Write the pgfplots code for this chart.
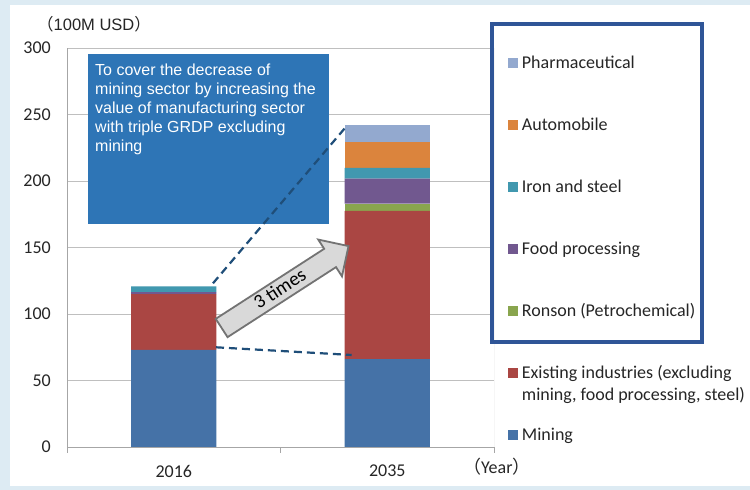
\documentclass[border=0pt]{standalone}
\usepackage{fontspec}
\setmainfont{Carlito}
\newfontfamily\arial{Liberation Sans}
\newfontfamily\cjk{Noto Sans CJK JP}
\usepackage{pgfplots}
\pgfplotsset{compat=1.18}
\usetikzlibrary{shapes.arrows}
\definecolor{bgblue}{HTML}{DDEBF3}
\definecolor{cmining}{HTML}{4572A7}
\definecolor{cexist}{HTML}{AA4643}
\definecolor{cronson}{HTML}{89A54E}
\definecolor{cfood}{HTML}{71588F}
\definecolor{ciron}{HTML}{4198AF}
\definecolor{cauto}{HTML}{DB843D}
\definecolor{cpharma}{HTML}{93A9CF}
\definecolor{boxblue}{HTML}{2E75B6}
\definecolor{dashblue}{HTML}{1F4E79}
\definecolor{legblue}{HTML}{2F5597}
\definecolor{axisgray}{HTML}{A6A6A6}
\definecolor{gridgray}{HTML}{BFBFBF}
\definecolor{txt}{HTML}{262626}
\begin{document}
\begin{tikzpicture}[x=1bp,y=1bp]
\fill[bgblue] (0,0) rectangle (750,490);
\fill[white] (10,4) rectangle (750,485);
\begin{axis}[
  at={(67bp,43bp)}, anchor=south west,
  width=427bp, height=399bp, scale only axis,
  ybar stacked, bar width=0.4,
  xmin=-0.5, xmax=1.5, ymin=0, ymax=300,
  ytick={0,50,...,300},
  xtick={0,1}, xticklabels={2016,2035},
  extra x ticks={-0.5,0.5,1.5}, extra x tick labels={},
  extra x tick style={major tick length=6bp},
  major tick length=0pt, tick align=outside,
  tick style={axisgray, line width=0.8bp},
  axis x line*=bottom, axis y line*=left,
  axis line style={axisgray, line width=0.8bp},
  ymajorgrids, grid style={gridgray, line width=0.8bp},
  /pgf/number format/assume math mode=true,
  ticklabel style={font=\fontsize{18bp}{21bp}\selectfont, text=txt},
  yticklabel style={inner sep=0pt, anchor=east, xshift=-16bp},
  xticklabel style={inner sep=0pt, anchor=north, yshift=-18bp},
  legend style={at={(axis description cs:1.0321,0.9742)}, anchor=north west,
    draw=none, fill=none, inner sep=0pt, row sep=52bp,
    font=\fontsize{18bp}{21bp}\selectfont, text=txt,
    nodes={inner sep=0pt, text height=10bp, text depth=0bp},
    /tikz/every odd column/.append style={column sep=4bp}},
  legend cell align=left,
  reverse legend,
  legend image code/.code={\fill[#1] (0bp,-5bp) rectangle (10bp,5bp);},
]
\addplot[fill=cmining, draw=none] coordinates {(0,73) (1,66)};
\addlegendentry{Mining}
\addplot[fill=cexist, draw=none] coordinates {(0,42) (1,111.5)};
\addlegendentry{\rlap{\smash{\raisebox{-22bp}{mining, food processing, steel)}}}Existing industries (excluding}
\addplot[fill=cronson, draw=none] coordinates {(0,0) (1,5.5)};
\addlegendentry{Ronson (Petrochemical)}
\addplot[fill=cfood, draw=none] coordinates {(0,1.5) (1,18.8)};
\addlegendentry{Food processing}
\addplot[fill=ciron, draw=none] coordinates {(0,4.2) (1,8)};
\addlegendentry{Iron and steel}
\addplot[fill=cauto, draw=none] coordinates {(0,0) (1,19.7)};
\addlegendentry{Automobile}
\addplot[fill=cpharma, draw=none] coordinates {(0,0) (1,12.4)};
\addlegendentry{Pharmaceutical}
\draw[gridgray, line width=0.8bp] (rel axis cs:1,0) -- (rel axis cs:1,1);
\end{axis}
% text box
\fill[boxblue] (88,266) rectangle (329,436);
\node[anchor=north west, inner sep=0pt, align=left, text=white,
  font=\arial\fontsize{16bp}{19bp}\selectfont] at (95,426.7)
  {To cover the decrease of\\mining sector by increasing the\\value of manufacturing sector\\with triple GRDP excluding\\mining};
% dashed lines
\draw[dashblue, line width=2.2bp, dash pattern=on 8bp off 5bp] (213,206.7) -- (346.7,364);
\draw[dashblue, line width=2.2bp, dash pattern=on 8bp off 5bp] (216,142.7) -- (351.7,135);
% arrow
\node[single arrow, draw=gray!90!black, fill=gray!30, line width=1.8bp,
  minimum height=151bp, single arrow head extend=11bp, single arrow tip angle=90,
  inner xsep=0pt, inner ysep=0pt, text height=15bp, text depth=5bp,
  rotate=32.85, font=\fontsize{19.5bp}{22bp}\selectfont, text=black]
  at (280.5,200) {3 times};
% legend frame
\draw[legblue, line width=4bp] (492,148) rectangle (702,466.3);
% axis unit labels
\node[anchor=base west, inner sep=0pt, text=txt, font=\arial\fontsize{16.5bp}{19bp}\selectfont] at (37,459.3) {{\cjk（}100M USD{\cjk）}};
\node[anchor=base west, inner sep=0pt, text=txt, font=\fontsize{18bp}{21bp}\selectfont] at (463,16.7) {{\cjk（}Year{\cjk）}};
\end{tikzpicture}
\end{document}
